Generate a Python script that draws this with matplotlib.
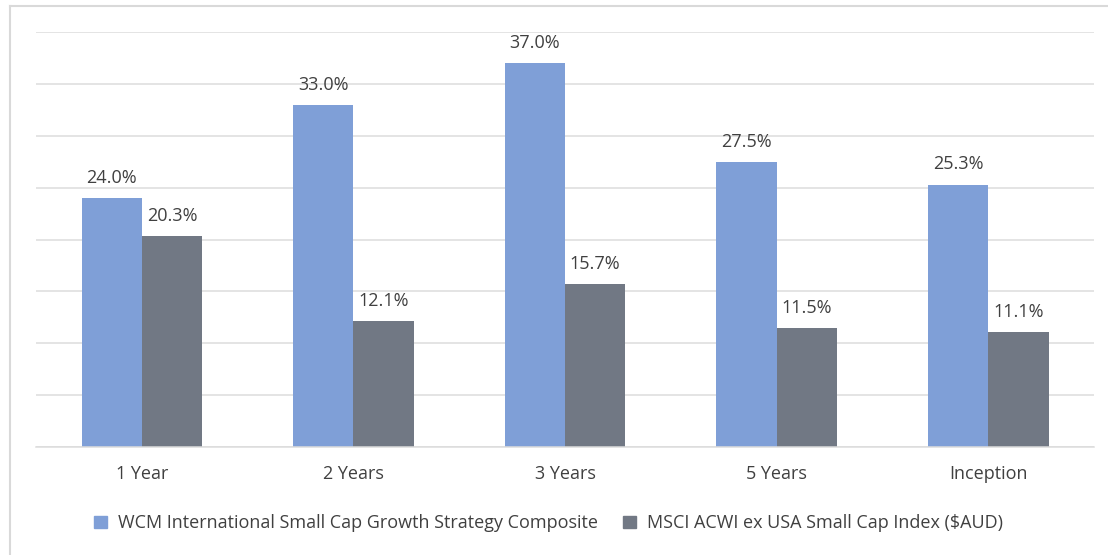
import matplotlib.pyplot as plt
import numpy as np
from matplotlib.lines import Line2D
from matplotlib.patches import Patch

# data
categories = ['1 Year', '2 Years', '3 Years', '5 Years', 'Inception']
wcm_values = [24.0, 33.0, 37.0, 27.5, 25.3]
msci_values = [20.3, 12.1, 15.7, 11.5, 11.1]
series_names = ['WCM International Small Cap Growth Strategy Composite',
                'MSCI ACWI ex USA Small Cap Index ($AUD)']

BLUE = '#7f9fd7'
GREY = '#717884'
TEXT = '#404040'
FS = 13

plt.rcParams['font.family'] = ['Open Sans', 'DejaVu Sans']

fig = plt.figure(figsize=(11.08, 5.55), dpi=100)
ax = fig.add_axes([0.0325, 0.1946, 0.9549, 0.7477])

x = np.arange(len(categories))
w = 0.285
bars1 = ax.bar(x - w / 2, wcm_values, w, color=BLUE, zorder=2)
bars2 = ax.bar(x + w / 2, msci_values, w, color=GREY, zorder=2)

for bars in (bars1, bars2):
    for b in bars:
        ax.annotate(f'{b.get_height():.1f}%', (b.get_x() + b.get_width() / 2, b.get_height()),
                    xytext=(0, 8), textcoords='offset points', ha='center', va='bottom',
                    fontsize=FS, color=TEXT)

ax.set_xlim(-0.5, len(categories) - 0.5)
ax.set_ylim(0, 40)
ax.set_yticks(np.arange(0, 41, 5))
ax.yaxis.grid(True, color='#dcdcdc', linewidth=1.1, zorder=0)
ax.tick_params(axis='y', left=False, labelleft=False)
ax.tick_params(axis='x', length=0, pad=13, labelsize=FS, labelcolor=TEXT)
ax.set_xticks(x)
ax.set_xticklabels(categories)
for s in ['top', 'right', 'left']:
    ax.spines[s].set_visible(False)
ax.spines['bottom'].set_color('#dcdcdc')
ax.spines['bottom'].set_linewidth(1.1)

handles = [Patch(color=BLUE), Patch(color=GREY)]
fig.legend(handles, series_names, loc='center', bbox_to_anchor=(0.495, 0.057), ncol=2,
           frameon=False, fontsize=FS, labelcolor=TEXT, handlelength=0.7, handleheight=0.7,
           handletextpad=0.6, columnspacing=1.4)

# outer chart frame (top and left edges visible)
fig.add_artist(Line2D([10 / 1108, 1.0], [1 - 6 / 555] * 2, color='#d9d9d9', linewidth=1.5))
fig.add_artist(Line2D([10 / 1108] * 2, [0, 1 - 6 / 555], color='#d9d9d9', linewidth=1.5))

fig.savefig('out.png', dpi=100)
